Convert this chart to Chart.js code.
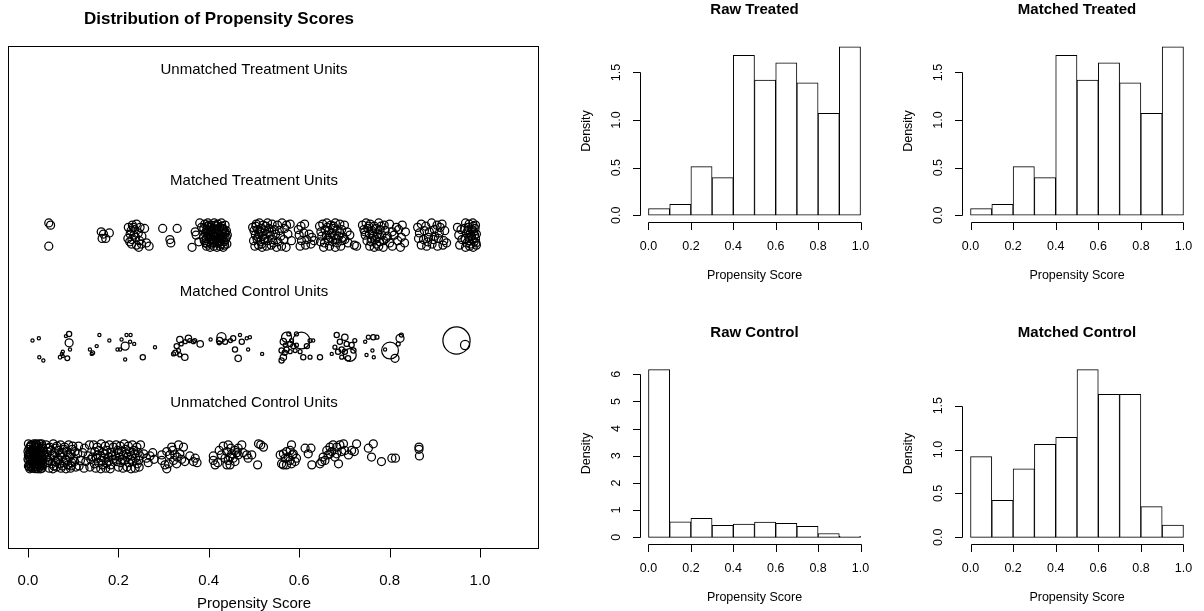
<!DOCTYPE html>
<html>
<head>
<meta charset="utf-8">
<script src="https://cdn.jsdelivr.net/npm/chart.js@4.4.0/dist/chart.umd.min.js"></script>
<style>
html, body { margin: 0; padding: 0; background: #fff; }
#wrap { position: relative; width: 1204px; height: 611px; overflow: hidden; }
#wrap canvas { position: absolute; left: 0; top: 0; }
</style>
</head>
<body>
<div id="wrap">
  <canvas id="jitter" width="1204" height="611"></canvas>
  <canvas id="rawTreatedHist" width="1204" height="611"></canvas>
  <canvas id="matchedTreatedHist" width="1204" height="611"></canvas>
  <canvas id="rawControlHist" width="1204" height="611"></canvas>
  <canvas id="matchedControlHist" width="1204" height="611"></canvas>
</div>
<script>
// ---- jitter plot data: [propensity score, jittered row] ----
const rowNames = ["Unmatched Treatment Units", "Matched Treatment Units", "Matched Control Units", "Unmatched Control Units"];
const rowValues = [4, 3, 2, 1];
const jitterTicks = [0, 0.2, 0.4, 0.6, 0.8, 1.0];

// matched treated (row 3)
const matchedTreatedPts = [
  [0.046,3.10],[0.050,3.08],[0.046,2.89],
  [0.162,3.02],[0.167,3.00],[0.180,3.01],[0.164,2.96],[0.172,2.96],
  [0.222,3.06],[0.231,3.08],[0.240,3.09],[0.228,3.03],[0.236,3.04],[0.248,3.06],[0.258,3.05],[0.226,3.00],
  [0.234,2.99],[0.244,3.01],[0.221,2.96],[0.230,2.95],[0.238,2.97],[0.247,2.94],[0.229,2.91],[0.240,2.90],
  [0.251,2.91],[0.262,2.92],[0.245,2.88],[0.268,2.89],[0.233,3.06],[0.252,2.98],[0.225,2.93],
  [0.298,3.05],[0.330,3.05],[0.314,2.95],[0.316,2.92],
  [0.363,2.88],[0.372,2.99],[0.370,3.02],[0.380,3.10],[0.378,2.93],[0.384,3.06],
  [0.391,3.09],[0.398,3.10],[0.405,3.08],[0.412,3.10],[0.420,3.09],[0.428,3.10],[0.436,3.08],
  [0.389,3.05],[0.396,3.04],[0.403,3.06],[0.410,3.05],[0.417,3.04],[0.424,3.06],[0.431,3.05],[0.439,3.03],
  [0.392,3.01],[0.399,3.00],[0.407,3.02],[0.414,3.00],[0.421,3.01],[0.428,3.02],[0.435,3.00],[0.441,2.99],
  [0.388,2.97],[0.395,2.96],[0.402,2.97],[0.409,2.95],[0.416,2.97],[0.423,2.96],[0.430,2.97],[0.437,2.95],
  [0.393,2.92],[0.400,2.93],[0.406,2.91],[0.413,2.93],[0.420,2.92],[0.427,2.91],[0.434,2.93],[0.440,2.91],
  [0.395,2.89],[0.403,2.88],[0.411,2.89],[0.418,2.88],[0.425,2.89],[0.432,2.88],
  [0.400,3.03],[0.418,3.07],[0.426,2.99],[0.411,2.98],[0.433,3.04],[0.404,2.99],[0.421,2.94],[0.397,3.07],
  [0.394,3.02],[0.401,3.08],[0.408,3.00],[0.415,3.08],[0.422,3.03],[0.429,3.07],[0.436,3.02],[0.390,2.94],
  [0.397,2.91],[0.404,2.95],[0.411,2.92],[0.418,2.95],[0.425,2.93],[0.432,2.95],[0.439,2.97],[0.398,2.98],
  [0.413,3.04],[0.427,2.97],[0.406,3.04],[0.435,2.90],
  [0.497,3.06],[0.505,3.09],[0.512,3.10],[0.520,3.08],[0.530,3.10],[0.540,3.09],[0.552,3.08],[0.562,3.10],[0.572,3.08],[0.580,3.09],
  [0.500,3.03],[0.508,3.04],[0.516,3.05],[0.524,3.03],[0.533,3.05],[0.545,3.04],[0.556,3.03],[0.568,3.05],
  [0.503,2.99],[0.511,3.00],[0.519,2.98],[0.527,3.00],[0.536,2.99],[0.548,3.00],[0.559,2.98],[0.575,3.00],
  [0.499,2.94],[0.507,2.95],[0.515,2.93],[0.523,2.95],[0.531,2.94],[0.541,2.95],[0.553,2.93],[0.566,2.95],[0.583,2.94],
  [0.502,2.89],[0.510,2.90],[0.518,2.88],[0.528,2.89],[0.538,2.90],[0.550,2.88],[0.561,2.89],[0.571,2.88],
  [0.504,3.07],[0.514,3.02],[0.522,2.96],[0.509,2.97],[0.526,3.07],[0.535,3.02],[0.543,2.92],[0.517,2.91],
  [0.598,3.04],[0.604,3.07],[0.612,3.09],[0.600,2.99],[0.610,3.01],[0.622,3.00],[0.605,2.94],[0.617,2.95],
  [0.628,2.97],[0.602,2.89],[0.614,2.90],[0.626,2.91],[0.633,2.94],
  [0.645,3.07],[0.652,3.09],[0.661,3.10],[0.670,3.08],[0.680,3.10],[0.690,3.09],[0.700,3.08],
  [0.648,3.02],[0.657,3.04],[0.666,3.03],[0.675,3.05],[0.684,3.03],[0.694,3.04],[0.706,3.02],
  [0.650,2.98],[0.660,2.99],[0.669,2.97],[0.678,2.99],[0.688,2.98],[0.698,2.97],[0.712,2.99],
  [0.647,2.93],[0.656,2.92],[0.665,2.94],[0.674,2.93],[0.684,2.92],[0.695,2.94],[0.708,2.92],[0.722,2.90],
  [0.654,2.88],[0.667,2.89],[0.680,2.88],[0.692,2.89],[0.727,2.89],
  [0.662,3.06],[0.672,3.01],[0.682,2.96],[0.664,2.96],[0.690,3.01],[0.676,3.07],[0.701,2.95],
  [0.740,3.08],[0.748,3.10],[0.757,3.09],[0.766,3.07],[0.776,3.10],[0.788,3.08],[0.800,3.09],[0.815,3.06],[0.828,3.08],
  [0.743,3.04],[0.752,3.05],[0.761,3.03],[0.770,3.05],[0.779,3.04],[0.790,3.03],[0.806,3.02],[0.820,3.04],[0.835,3.02],
  [0.746,2.99],[0.755,3.00],[0.764,2.98],[0.773,3.00],[0.783,2.99],[0.795,2.98],[0.810,2.99],[0.826,2.97],
  [0.750,2.94],[0.759,2.93],[0.768,2.95],[0.778,2.93],[0.787,2.94],[0.800,2.92],[0.818,2.94],[0.833,2.92],
  [0.756,2.89],[0.766,2.88],[0.776,2.89],[0.786,2.88],[0.806,2.89],[0.824,2.88],
  [0.754,3.07],[0.763,3.01],[0.772,2.97],[0.781,3.07],[0.760,2.96],[0.792,2.96],[0.771,2.91],[0.745,3.02],
  [0.862,3.06],[0.870,3.09],[0.880,3.07],[0.893,3.10],[0.905,3.08],[0.916,3.09],
  [0.866,3.01],[0.877,3.03],[0.888,3.02],[0.899,3.04],[0.910,3.01],[0.922,3.03],
  [0.864,2.96],[0.875,2.95],[0.886,2.97],[0.897,2.95],[0.908,2.96],[0.920,2.94],
  [0.870,2.90],[0.882,2.89],[0.894,2.91],[0.906,2.89],[0.918,2.90],[0.926,2.92],
  [0.900,2.98],[0.912,3.06],[0.884,2.93],
  [0.950,3.06],[0.958,3.04],[0.953,2.99],[0.960,2.95],[0.955,2.90],
  [0.968,3.10],[0.976,3.09],[0.984,3.10],[0.990,3.08],
  [0.966,3.05],[0.974,3.06],[0.982,3.04],[0.989,3.05],
  [0.970,3.01],[0.978,3.00],[0.986,3.02],[0.992,3.00],
  [0.967,2.96],[0.975,2.97],[0.983,2.95],[0.990,2.96],
  [0.971,2.92],[0.979,2.91],[0.987,2.93],
  [0.968,2.88],[0.977,2.89],[0.985,2.88],[0.992,2.90],
  [0.973,3.03],[0.981,2.98],[0.988,2.99],[0.976,2.94],[0.985,3.07],[0.991,2.92]
];

// matched control (row 2): [score, jittered row, weight]
const matchedControlPts = [
  [0.010,2.04,0.4],[0.024,2.06,0.4],[0.025,1.89,0.4],[0.034,1.86,0.4],
  [0.091,2.10,0.65],[0.091,2.02,1.0],[0.084,2.08,0.4],[0.093,1.96,0.4],[0.077,1.94,0.4],[0.075,1.92,0.4],
  [0.071,1.89,0.45],[0.077,1.90,0.4],[0.087,1.88,0.6],
  [0.158,2.09,0.4],[0.180,2.04,0.4],[0.152,1.99,0.4],[0.137,1.96,0.4],[0.143,1.93,0.5],[0.141,1.92,0.4],
  [0.207,2.05,0.4],[0.218,2.09,0.4],[0.227,2.09,0.4],[0.226,2.03,0.4],[0.235,2.01,0.4],[0.215,1.99,1.0],
  [0.204,1.96,0.4],[0.198,1.96,0.4],[0.215,1.87,0.4],[0.254,1.89,0.65],[0.281,1.98,0.4],
  [0.336,2.05,0.8],[0.355,2.06,0.8],[0.381,2.01,0.8],[0.366,2.03,0.5],[0.358,2.04,0.5],[0.348,2.03,0.5],
  [0.329,1.99,0.65],[0.333,1.95,0.5],[0.326,1.93,0.65],[0.336,1.91,0.5],[0.347,1.89,0.8],[0.322,1.92,0.5],
  [0.369,2.04,0.5],[0.339,2.01,0.5],
  [0.404,2.05,0.4],[0.428,2.07,1.15],[0.436,2.03,0.65],[0.423,2.02,0.5],[0.454,2.06,0.65],[0.473,2.03,0.65],
  [0.469,2.09,0.4],[0.484,2.06,0.4],[0.491,2.07,0.4],[0.458,1.96,0.65],[0.465,1.88,0.8],[0.487,1.96,0.4],
  [0.448,2.04,0.5],[0.424,2.04,0.8],[0.518,1.92,0.4],
  [0.605,2.04,2.1],[0.572,2.07,1.25],[0.565,2.03,0.8],[0.580,2.01,0.65],[0.587,1.99,0.65],[0.572,1.96,0.65],
  [0.561,1.95,0.65],[0.568,1.93,0.65],[0.565,1.89,0.8],[0.561,1.86,0.65],[0.580,1.94,0.5],[0.591,1.95,0.5],
  [0.594,2.00,0.5],[0.583,2.04,0.5],[0.617,1.99,0.65],[0.624,2.04,0.5],[0.631,2.04,0.4],[0.609,1.89,0.65],
  [0.624,1.89,0.5],[0.602,1.94,0.5],[0.577,2.10,0.5],[0.594,2.10,0.5],[0.569,2.00,0.5],
  [0.646,1.89,0.65],[0.672,1.92,0.4],
  [0.712,1.91,1.6],[0.701,2.07,0.8],[0.683,2.09,0.65],[0.690,2.03,0.65],[0.705,2.01,0.65],[0.716,2.00,0.65],
  [0.694,1.96,0.65],[0.686,1.94,0.65],[0.701,1.94,0.65],[0.708,1.88,0.65],[0.720,1.95,0.65],[0.723,2.04,0.5],
  [0.679,1.98,0.5],[0.694,1.89,0.5],
  [0.746,2.03,0.4],[0.753,2.07,0.5],[0.764,2.07,0.65],[0.772,2.07,0.5],[0.749,1.91,0.4],[0.762,1.95,0.4],[0.765,1.89,0.4],
  [0.801,1.95,2.1],[0.790,1.96,0.4],[0.812,1.88,1.0],[0.823,2.06,1.0],[0.819,2.01,0.5],[0.826,2.09,0.5],
  [0.948,2.04,3.4],[0.967,2.00,1.15]
];

// unmatched control (row 1)
const unmatchedControlPts = [
  [0.001,1.11],[0.007,1.10],[0.013,1.11],[0.019,1.10],[0.025,1.11],[0.031,1.09],
  [0.002,1.06],[0.008,1.05],[0.014,1.07],[0.020,1.05],[0.026,1.06],[0.033,1.04],
  [0.001,1.01],[0.006,1.00],[0.012,1.02],[0.018,1.00],[0.024,1.01],[0.030,0.99],
  [0.002,0.96],[0.009,0.95],[0.015,0.97],[0.021,0.95],[0.027,0.96],[0.032,0.94],
  [0.001,0.91],[0.007,0.90],[0.013,0.92],[0.019,0.90],[0.025,0.91],[0.031,0.89],
  [0.004,0.885],[0.016,0.886],[0.028,0.885],[0.004,1.03],[0.010,0.98],[0.022,1.08],[0.017,0.93],[0.029,1.02],
  [0.004,1.08],[0.010,1.06],[0.016,1.09],[0.022,1.03],[0.028,1.07],[0.003,0.99],[0.009,1.01],[0.015,1.00],
  [0.021,0.98],[0.027,0.99],[0.004,0.93],[0.010,0.94],[0.016,0.95],[0.022,0.92],[0.028,0.93],[0.033,0.97],
  [0.010,0.89],[0.022,0.885],[0.033,1.07],[0.032,0.91],
  [0.000,1.04],[0.005,1.02],[0.011,1.04],[0.017,1.03],[0.023,1.05],[0.029,1.04],[0.000,0.97],[0.006,0.97],
  [0.012,0.96],[0.018,0.97],[0.024,0.96],[0.030,0.96],[0.003,0.90],[0.012,0.90],[0.018,0.92],[0.026,0.90],
  [0.006,1.09],[0.018,1.11],[0.030,1.11],[0.035,1.01],
  [0.040,1.10],[0.048,1.08],[0.056,1.11],[0.064,1.09],[0.072,1.10],[0.081,1.08],[0.090,1.10],[0.099,1.09],
  [0.043,1.04],[0.051,1.05],[0.059,1.03],[0.068,1.05],[0.077,1.03],[0.086,1.04],[0.095,1.02],[0.104,1.04],
  [0.041,0.99],[0.050,0.98],[0.058,1.00],[0.066,0.98],[0.075,0.99],[0.083,0.97],[0.092,0.99],[0.101,0.98],
  [0.044,0.94],[0.053,0.93],[0.061,0.95],[0.070,0.93],[0.079,0.94],[0.088,0.92],[0.097,0.94],
  [0.047,0.89],[0.055,0.885],[0.063,0.90],[0.073,0.89],[0.084,0.885],[0.094,0.89],[0.106,0.90],
  [0.045,1.07],[0.054,1.01],[0.062,1.07],[0.071,1.01],[0.080,1.06],[0.089,1.01],[0.098,1.06],
  [0.046,0.96],[0.057,0.91],[0.067,0.96],[0.076,0.91],[0.085,0.96],[0.095,0.91],[0.103,0.95],
  [0.112,1.09],[0.125,1.07],[0.136,1.10],[0.110,1.02],[0.121,1.03],[0.133,1.00],
  [0.116,0.96],[0.128,0.95],[0.139,0.97],[0.113,0.91],[0.124,0.89],[0.137,0.90],
  [0.145,1.10],[0.153,1.08],[0.162,1.11],[0.171,1.09],[0.180,1.10],[0.189,1.08],
  [0.148,1.04],[0.157,1.05],[0.166,1.03],[0.175,1.05],[0.185,1.03],
  [0.143,0.99],[0.151,0.98],[0.160,1.00],[0.169,0.98],[0.179,0.99],[0.188,0.97],
  [0.147,0.93],[0.156,0.94],[0.165,0.92],[0.174,0.94],[0.183,0.92],
  [0.150,0.89],[0.161,0.885],[0.172,0.89],[0.182,0.885],
  [0.154,1.01],[0.170,1.02],[0.186,1.00],[0.162,0.96],[0.178,0.95],
  [0.195,1.10],[0.204,1.09],[0.213,1.11],[0.222,1.09],[0.231,1.10],[0.241,1.08],[0.249,1.10],
  [0.198,1.05],[0.207,1.04],[0.216,1.06],[0.225,1.04],[0.234,1.05],[0.244,1.03],
  [0.193,1.00],[0.202,0.99],[0.211,1.01],[0.220,0.99],[0.229,1.00],[0.238,0.98],[0.248,1.00],
  [0.196,0.95],[0.205,0.94],[0.214,0.96],[0.223,0.94],[0.232,0.95],[0.242,0.93],
  [0.200,0.90],[0.210,0.89],[0.219,0.90],[0.228,0.885],[0.237,0.89],[0.246,0.90],
  [0.200,1.03],[0.218,1.02],[0.236,1.02],[0.209,0.97],[0.227,0.97],[0.245,0.96],
  [0.256,1.02],[0.262,0.98],[0.270,1.00],[0.276,1.03],[0.266,0.94],[0.279,0.97],
  [0.296,0.96],[0.307,1.04],[0.318,1.08],[0.333,1.10],[0.344,1.08],[0.314,1.01],[0.325,1.01],[0.336,1.02],
  [0.322,0.96],[0.311,0.93],[0.303,0.92],[0.329,0.93],[0.340,0.97],[0.307,0.885],[0.347,0.95],[0.296,1.01],
  [0.320,1.05],[0.330,0.99],
  [0.358,1.00],[0.370,0.98],[0.374,0.94],[0.366,0.95],
  [0.414,0.92],[0.420,0.94],[0.423,1.05],[0.432,1.09],[0.443,1.10],[0.449,1.07],[0.458,1.05],[0.465,1.07],
  [0.473,1.10],[0.440,1.04],[0.451,1.02],[0.462,1.03],[0.447,0.99],[0.454,0.98],[0.443,0.96],[0.436,0.98],
  [0.428,1.01],[0.465,1.01],[0.476,1.03],[0.484,1.01],[0.495,1.01],[0.487,0.98],[0.447,0.92],[0.458,0.95],
  [0.440,0.92],[0.508,0.92],[0.510,1.11],[0.515,1.10],[0.521,1.08],[0.410,1.00],[0.410,0.96],
  [0.558,1.01],[0.565,1.02],[0.572,1.04],[0.583,1.10],[0.580,1.05],[0.587,1.02],[0.576,0.99],[0.569,0.98],
  [0.561,0.93],[0.572,0.92],[0.583,0.93],[0.591,0.95],[0.580,0.96],[0.565,0.92],[0.613,1.07],[0.626,1.07],
  [0.620,1.02],[0.628,0.92],[0.585,1.01],[0.594,0.98],
  [0.653,0.99],[0.650,0.95],[0.661,1.05],[0.668,1.08],[0.675,1.10],[0.683,1.08],[0.690,1.10],[0.698,1.11],
  [0.672,1.04],[0.683,1.02],[0.694,1.04],[0.701,1.05],[0.716,1.05],[0.722,1.04],[0.727,1.11],[0.664,1.01],
  [0.679,0.99],[0.709,1.01],[0.687,0.93],[0.657,0.96],[0.668,1.02],[0.646,0.93],
  [0.753,1.07],[0.764,1.11],[0.760,0.99],[0.782,0.95],
  [0.805,0.98],[0.813,0.98],
  [0.865,1.08],[0.865,1.06],[0.866,1.00]
];

// ---- histogram data (density per 0.1 bin) ----
const binCenters = [0.05, 0.15, 0.25, 0.35, 0.45, 0.55, 0.65, 0.75, 0.85, 0.95];
const histXTicks = [0, 0.2, 0.4, 0.6, 0.8, 1.0];
const rawTreatedDensity = [0.07, 0.116, 0.51, 0.396, 1.68, 1.42, 1.60, 1.39, 1.07, 1.77];
const matchedTreatedDensity = [0.07, 0.116, 0.51, 0.396, 1.68, 1.42, 1.60, 1.39, 1.07, 1.77];
const rawControlDensity = [6.17, 0.57, 0.70, 0.44, 0.49, 0.56, 0.51, 0.40, 0.14, 0.04];
const matchedControlDensity = [0.92, 0.42, 0.78, 1.06, 1.14, 1.91, 1.63, 1.63, 0.35, 0.14];
const treatedYTicks = [0, 0.5, 1.0, 1.5];
const rawControlYTicks = [0, 1, 2, 3, 4, 5, 6];
const matchedControlYTicks = [0, 0.5, 1.0, 1.5];

const FONT = "'Liberation Sans', Arial, Helvetica, sans-serif";

function toXY(arr) {
    return arr.map(p => ({x: p[0], y: p[1]}));
}

const jitterAxes = {
    id: 'jitterAxes',
    afterDraw(chart) {
        const ctx = chart.ctx;
        const a = chart.chartArea;
        const xs = chart.scales.x, ys = chart.scales.y;
        ctx.save();
        ctx.strokeStyle = '#000';
        ctx.fillStyle = '#000';
        ctx.lineWidth = 1;
        // box
        ctx.strokeRect(Math.round(a.left) + 0.5, Math.round(a.top) + 0.5,
                       Math.round(a.right - a.left), Math.round(a.bottom - a.top));
        // row labels
        ctx.font = '15px ' + FONT;
        ctx.textAlign = 'center';
        ctx.textBaseline = 'middle';
        const cx = xs.getPixelForValue(0.5);
        for (let i = 0; i < rowNames.length; i++) {
            ctx.fillText(rowNames[i], cx, ys.getPixelForValue(rowValues[i] + 0.48));
        }
        // x axis
        const yb = Math.round(a.bottom) + 0.5;
        const x0 = Math.round(xs.getPixelForValue(jitterTicks[0])) + 0.5;
        const x1 = Math.round(xs.getPixelForValue(jitterTicks[jitterTicks.length - 1])) + 0.5;
        ctx.beginPath();
        ctx.moveTo(x0, yb); ctx.lineTo(x1, yb);
        for (const t of jitterTicks) {
            const px = Math.round(xs.getPixelForValue(t)) + 0.5;
            ctx.moveTo(px, yb); ctx.lineTo(px, yb + 9);
        }
        ctx.stroke();
        for (const t of jitterTicks) {
            ctx.fillText(t.toFixed(1), xs.getPixelForValue(t), a.bottom + 33);
        }
        ctx.fillText('Propensity Score', xs.getPixelForValue(0.5), a.bottom + 56);
        ctx.font = 'bold 17px ' + FONT;
        ctx.fillText('Distribution of Propensity Scores', 219, 19);
        ctx.restore();
    }
};

new Chart(document.getElementById('jitter'), {
    type: 'scatter',
    data: {
        datasets: [
            { data: toXY(matchedTreatedPts), pointRadius: 4 },
            { data: toXY(matchedControlPts), pointRadius: matchedControlPts.map(p => 4 * p[2]) },
            { data: toXY(unmatchedControlPts), pointRadius: 4 }
        ].map(d => Object.assign(d, {
            pointStyle: 'circle',
            pointBorderColor: '#000',
            pointBackgroundColor: 'rgba(0,0,0,0)',
            pointBorderWidth: 1.25,
            pointHoverRadius: 0,
            clip: false
        }))
    },
    options: {
        responsive: false,
        animation: false,
        events: [],
        layout: { autoPadding: false, padding: { left: 8, top: 46, right: 1204 - 538, bottom: 611 - 548 } },
        plugins: { legend: { display: false }, tooltip: { enabled: false } },
        scales: {
            x: { type: 'linear', display: false, min: -0.0442, max: 1.1283 },
            y: { type: 'linear', display: false, min: 0.171, max: 4.694 }
        }
    },
    plugins: [jitterAxes]
});

// R-style axes for the histograms
const histAxes = {
    id: 'histAxes',
    afterDraw(chart) {
        const o = chart.options.plugins.histAxes;
        const ctx = chart.ctx;
        const a = chart.chartArea;
        const xs = chart.scales.x, ys = chart.scales.y;
        ctx.save();
        ctx.strokeStyle = '#000';
        ctx.fillStyle = '#000';
        ctx.lineWidth = 1;
        const yb = Math.round(a.bottom) + 0.5;
        const xl = Math.round(a.left) + 0.5;
        ctx.beginPath();
        ctx.moveTo(Math.round(xs.getPixelForValue(histXTicks[0])) + 0.5, yb);
        ctx.lineTo(Math.round(xs.getPixelForValue(histXTicks[histXTicks.length - 1])) + 0.5, yb);
        for (const t of histXTicks) {
            const px = Math.round(xs.getPixelForValue(t)) + 0.5;
            ctx.moveTo(px, yb); ctx.lineTo(px, yb + 7.5);
        }
        ctx.moveTo(xl, Math.round(ys.getPixelForValue(o.yTicks[0])) + 0.5);
        ctx.lineTo(xl, Math.round(ys.getPixelForValue(o.yTicks[o.yTicks.length - 1])) + 0.5);
        for (const t of o.yTicks) {
            const py = Math.round(ys.getPixelForValue(t)) + 0.5;
            ctx.moveTo(xl, py); ctx.lineTo(xl - 7.5, py);
        }
        ctx.stroke();

        ctx.font = '12.5px ' + FONT;
        ctx.textAlign = 'center';
        ctx.textBaseline = 'middle';
        for (const t of histXTicks) {
            ctx.fillText(t.toFixed(1), xs.getPixelForValue(t), a.bottom + 25);
        }
        ctx.fillText('Propensity Score', (a.left + a.right) / 2, a.bottom + 54);
        for (const t of o.yTicks) {
            ctx.save();
            ctx.translate(a.left - 23, ys.getPixelForValue(t));
            ctx.rotate(-Math.PI / 2);
            ctx.fillText(t.toFixed(o.yDigits), 0, 0);
            ctx.restore();
        }
        ctx.save();
        ctx.translate(a.left - 53, (a.top + a.bottom) / 2);
        ctx.rotate(-Math.PI / 2);
        ctx.fillText('Density', 0, 0);
        ctx.restore();

        ctx.font = 'bold 15px ' + FONT;
        ctx.fillText(o.title, (a.left + a.right) / 2, a.top - 30);
        ctx.restore();
    }
};

function histChart(id, title, values, yTicks, yDigits, area) {
    const top = Math.max(...values);
    new Chart(document.getElementById(id), {
        type: 'bar',
        data: {
            datasets: [{
                data: binCenters.map((c, i) => ({x: c, y: values[i]})),
                backgroundColor: '#fff',
                borderColor: '#000',
                borderWidth: 1,
                borderSkipped: false,
                barPercentage: 1,
                categoryPercentage: 1
            }]
        },
        options: {
            responsive: false,
            animation: false,
            events: [],
            layout: { autoPadding: false, padding: { left: area[0], top: area[1], right: 1204 - area[2], bottom: 611 - area[3] } },
            plugins: {
                legend: { display: false },
                tooltip: { enabled: false },
                histAxes: { title: title, yTicks: yTicks, yDigits: yDigits }
            },
            scales: {
                x: { type: 'linear', display: false, min: -0.04, max: 1.04, offset: false },
                y: { type: 'linear', display: false, min: -0.04 * top, max: 1.04 * top }
            }
        },
        plugins: [histAxes]
    });
}

histChart('rawTreatedHist', 'Raw Treated', rawTreatedDensity, treatedYTicks, 1, [640, 40, 869, 222]);
histChart('matchedTreatedHist', 'Matched Treated', matchedTreatedDensity, treatedYTicks, 1, [962, 40, 1192, 222]);
histChart('rawControlHist', 'Raw Control', rawControlDensity, rawControlYTicks, 0, [640, 363, 869, 544]);
histChart('matchedControlHist', 'Matched Control', matchedControlDensity, matchedControlYTicks, 1, [962, 363, 1192, 544]);
</script>
</body>
</html>
